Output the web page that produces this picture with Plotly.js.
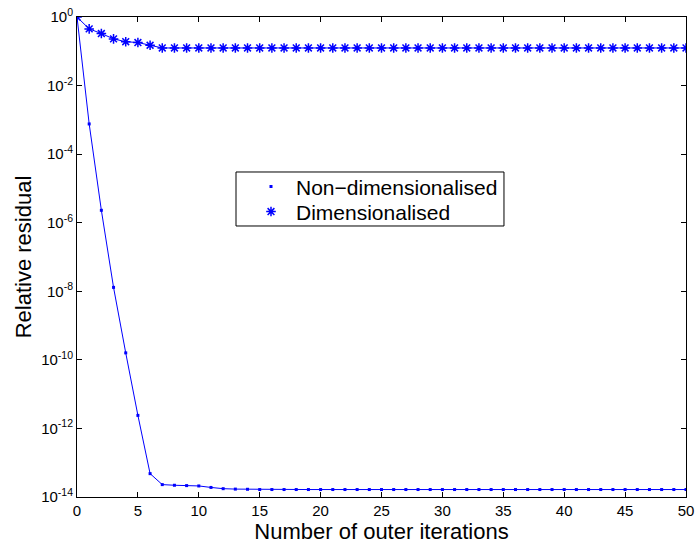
<!DOCTYPE html>
<html>
<head>
<meta charset="utf-8">
<script src="https://cdn.plot.ly/plotly-3.0.1.min.js"></script>
<style>html,body{margin:0;padding:0;background:#fff;}#chart{width:697px;height:545px;}</style>
</head>
<body>
<div id="chart"></div>
<script>
const iterations = Array.from({length: 51}, (_, i) => i);
const nonDimResidual = [
  1, 7.6e-4, 2.3e-6, 1.3e-8, 1.6e-10, 2.4e-12, 4.8e-14, 2.3e-14, 2.2e-14, 2.15e-14,
  2.1e-14, 1.9e-14, 1.75e-14, 1.7e-14, 1.68e-14, 1.65e-14, 1.65e-14, 1.65e-14, 1.65e-14, 1.65e-14,
  1.65e-14, 1.65e-14, 1.65e-14, 1.65e-14, 1.65e-14, 1.65e-14, 1.65e-14, 1.65e-14, 1.65e-14, 1.65e-14,
  1.65e-14, 1.65e-14, 1.65e-14, 1.65e-14, 1.65e-14, 1.65e-14, 1.65e-14, 1.65e-14, 1.65e-14, 1.65e-14,
  1.65e-14, 1.65e-14, 1.65e-14, 1.65e-14, 1.65e-14, 1.65e-14, 1.65e-14, 1.65e-14, 1.65e-14, 1.65e-14,
  1.65e-14
];
const dimResidual = [
  1, 0.45, 0.33, 0.23, 0.19, 0.18, 0.15, 0.125, 0.125, 0.125,
  0.125, 0.125, 0.125, 0.125, 0.125, 0.125, 0.125, 0.125, 0.125, 0.125,
  0.125, 0.125, 0.125, 0.125, 0.125, 0.125, 0.125, 0.125, 0.125, 0.125,
  0.125, 0.125, 0.125, 0.125, 0.125, 0.125, 0.125, 0.125, 0.125, 0.125,
  0.125, 0.125, 0.125, 0.125, 0.125, 0.125, 0.125, 0.125, 0.125, 0.125,
  0.125
];
const seriesNames = ['Non\u2212dimensionalised', 'Dimensionalised'];
const xTicks = [0, 5, 10, 15, 20, 25, 30, 35, 40, 45, 50];
const yTickExp = [0, -2, -4, -6, -8, -10, -12, -14];

const blue = '#0000ff';
const starMarker = {symbol: 'asterisk-open', size: 8, color: blue, line: {color: blue, width: 1.5}};
const dotMarker = {symbol: 'square', size: 3, color: blue};
const traces = [
  {x: iterations, y: nonDimResidual, mode: 'lines+markers', showlegend: false,
   line: {color: blue, width: 1}, marker: dotMarker},
  {x: iterations, y: dimResidual, mode: 'lines+markers', showlegend: false,
   line: {color: blue, width: 1}, marker: starMarker},
  {x: [null], y: [null], mode: 'markers', name: seriesNames[0], marker: dotMarker, legend: 'legend'},
  {x: [null], y: [null], mode: 'markers', name: seriesNames[1], marker: starMarker, legend: 'legend2'}
];

const font = {family: 'Liberation Sans, Arial, sans-serif', color: '#000'};
const legendBase = {x: 0.2775, xanchor: 'left', yanchor: 'top',
  borderwidth: 0, bgcolor: 'rgba(0,0,0,0)',
  font: Object.assign({size: 21}, font), tracegroupgap: 0, itemwidth: 40};
const layout = {
  width: 697, height: 545,
  margin: {l: 77, r: 11, t: 17, b: 48},
  paper_bgcolor: '#fff', plot_bgcolor: '#fff',
  font: Object.assign({size: 15}, font),
  showlegend: true,
  legend: Object.assign({y: 0.6888}, legendBase),
  legend2: Object.assign({y: 0.6367}, legendBase),
  shapes: [{type: 'rect', xref: 'paper', yref: 'paper', layer: 'above',
    x0: 0.2611, x1: 0.7011, y0: 0.5646, y1: 0.6771,
    line: {color: '#000', width: 1}, fillcolor: '#fff'}],
  xaxis: {
    range: [0, 50], tickvals: xTicks, ticktext: xTicks.map(String),
    ticks: 'inside', ticklen: 5, tickcolor: '#000', mirror: 'ticks',
    showline: true, linecolor: '#000', linewidth: 1, showgrid: false, zeroline: false,
    tickfont: Object.assign({size: 15}, font),
    title: {text: 'Number of outer iterations', font: Object.assign({size: 22}, font), standoff: 3}
  },
  yaxis: {
    type: 'log', range: [-14, 0],
    tickvals: yTickExp.map(e => Math.pow(10, e)),
    ticktext: yTickExp.map(e => '10<sup>' + (e < 0 ? '-' + (-e) : e) + '</sup>'),
    ticks: 'inside', ticklen: 5, tickcolor: '#000', mirror: 'ticks',
    showline: true, linecolor: '#000', linewidth: 1, showgrid: false, zeroline: false,
    tickfont: Object.assign({size: 15}, font),
    title: {text: 'Relative residual', font: Object.assign({size: 22}, font), standoff: 3}
  }
};
Plotly.newPlot('chart', traces, layout, {displayModeBar: false, staticPlot: true});
</script>
</body>
</html>
